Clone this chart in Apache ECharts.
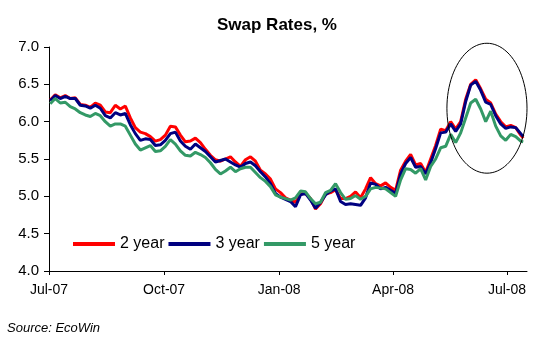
<!DOCTYPE html>
<html>
<head>
<meta charset="utf-8">
<script src="https://cdn.jsdelivr.net/npm/echarts@6/dist/echarts.min.js"></script>
<style>html,body{margin:0;padding:0;background:#fff}#c{width:539px;height:342px}</style>
</head>
<body>
<div id="c"></div>
<script>
// Sample dates (every 4 days)
const dates = [
'2007-07-02','2007-07-06','2007-07-10','2007-07-14','2007-07-18','2007-07-22','2007-07-26','2007-07-30',
'2007-08-03','2007-08-07','2007-08-11','2007-08-15','2007-08-19','2007-08-23','2007-08-27','2007-08-31',
'2007-09-04','2007-09-08','2007-09-12','2007-09-16','2007-09-20','2007-09-24','2007-09-28',
'2007-10-02','2007-10-06','2007-10-10','2007-10-14','2007-10-18','2007-10-22','2007-10-26','2007-10-30',
'2007-11-03','2007-11-07','2007-11-11','2007-11-15','2007-11-19','2007-11-23','2007-11-27',
'2007-12-01','2007-12-05','2007-12-09','2007-12-13','2007-12-17','2007-12-21','2007-12-25','2007-12-29',
'2008-01-02','2008-01-06','2008-01-10','2008-01-14','2008-01-18','2008-01-22','2008-01-26','2008-01-30',
'2008-02-03','2008-02-07','2008-02-11','2008-02-15','2008-02-19','2008-02-23','2008-02-27',
'2008-03-02','2008-03-06','2008-03-10','2008-03-14','2008-03-18','2008-03-22','2008-03-26','2008-03-30',
'2008-04-03','2008-04-07','2008-04-11','2008-04-15','2008-04-19','2008-04-23','2008-04-27',
'2008-05-01','2008-05-05','2008-05-09','2008-05-13','2008-05-17','2008-05-21','2008-05-25','2008-05-29',
'2008-06-02','2008-06-06','2008-06-10','2008-06-14','2008-06-18','2008-06-22','2008-06-26','2008-06-30',
'2008-07-04','2008-07-08','2008-07-12','2008-07-14'
];
const y2 = [
6.29,6.36,6.32,6.35,6.31,6.32,6.23,6.22,6.19,6.25,6.22,6.13,6.12,6.22,6.17,6.21,
6.05,5.92,5.86,5.84,5.80,5.74,5.76,
5.82,5.94,5.93,5.82,5.73,5.74,5.78,5.72,
5.63,5.55,5.49,5.47,5.50,5.53,5.46,
5.40,5.49,5.53,5.47,5.35,5.30,5.23,5.10,
5.05,4.98,4.95,4.92,5.03,5.04,4.97,4.83,
4.90,5.03,5.05,5.09,4.97,4.97,5.00,
5.06,4.98,5.10,5.25,5.17,5.14,5.18,5.12,
5.08,5.35,5.47,5.56,5.42,5.44,5.32,
5.50,5.68,5.90,5.88,6.00,5.90,6.00,6.30,
6.50,6.56,6.44,6.30,6.25,6.10,6.00,5.93,
5.95,5.92,5.82,5.78
];
const y3 = [
6.28,6.35,6.31,6.34,6.31,6.31,6.22,6.21,6.18,6.22,6.18,6.08,6.05,6.12,6.09,6.11,
5.96,5.84,5.75,5.77,5.76,5.68,5.69,
5.75,5.84,5.86,5.74,5.67,5.63,5.70,5.65,
5.60,5.53,5.46,5.48,5.50,5.46,5.42,
5.39,5.44,5.46,5.41,5.33,5.26,5.17,5.04,
4.99,4.96,4.93,4.86,5.02,5.04,4.95,4.84,
4.92,5.02,5.07,5.10,4.93,4.89,4.90,
4.89,4.88,4.98,5.18,5.16,5.10,5.12,5.08,
5.04,5.30,5.44,5.52,5.39,5.40,5.30,
5.45,5.64,5.85,5.86,5.97,5.87,5.97,6.27,
6.49,6.54,6.42,6.26,6.23,6.08,5.97,5.91,
5.93,5.92,5.84,5.80
];
const y5 = [
6.24,6.31,6.25,6.26,6.20,6.17,6.12,6.09,6.07,6.11,6.08,6.00,5.94,5.97,5.97,5.94,
5.82,5.70,5.62,5.65,5.68,5.60,5.61,
5.67,5.76,5.70,5.61,5.55,5.54,5.59,5.56,
5.52,5.45,5.36,5.30,5.34,5.39,5.33,
5.37,5.39,5.39,5.32,5.25,5.20,5.13,5.02,
4.99,4.97,4.95,4.98,5.07,5.06,4.97,4.90,
4.92,5.05,5.08,5.17,5.05,4.96,4.97,
5.01,4.96,5.00,5.10,5.12,5.11,5.10,5.05,
5.00,5.22,5.37,5.36,5.31,5.37,5.22,
5.40,5.50,5.65,5.67,5.83,5.72,5.85,6.05,
6.25,6.30,6.17,6.00,6.14,5.94,5.81,5.75,
5.83,5.80,5.74,5.73
];
const seriesNames = ['2 year','3 year','5 year'];
const tickDates = ['2007-07-01','2007-10-01','2008-01-01','2008-04-01','2008-07-01'];
const tickLabels = ['Jul-07','Oct-07','Jan-08','Apr-08','Jul-08'];

function ts(s){const p=s.split('-');return Date.UTC(+p[0],+p[1]-1,+p[2]);}
const tickTs = tickDates.map(ts);
const FONT = "'Liberation Sans', Arial, sans-serif";
const colors = ['#FF0000','#000080','#339966'];
const vals = [y2,y3,y5];

const chart = echarts.init(document.getElementById('c'), null, {renderer:'canvas'});
chart.setOption({
  animation:false,
  backgroundColor:'#fff',
  title:[
    {text:'Swap Rates, %', left:212, top:12, textStyle:{fontFamily:FONT,fontSize:17,fontWeight:'bold',color:'#000'}},
    {text:'Source: EcoWin', left:2, top:317, textStyle:{fontFamily:FONT,fontSize:13,fontStyle:'italic',fontWeight:'normal',color:'#000'}}
  ],
  grid:{left:49,right:12,top:47,bottom:71,containLabel:false},
  legend:{
    left:73, top:236, padding:0, itemWidth:42, itemHeight:4, itemGap:4,
    icon:'rect',
    data:seriesNames,
    textStyle:{fontFamily:FONT,fontSize:16,color:'#000'}
  },
  xAxis:{
    type:'value', min:ts('2007-07-01'), max:ts('2008-07-17'),
    axisLine:{lineStyle:{color:'#000',width:1}},
    axisTick:{show:true, customValues:tickTs, length:4, lineStyle:{color:'#000'}},
    axisLabel:{customValues:tickTs, margin:12, fontFamily:FONT, fontSize:14, color:'#000',
      formatter:function(v){let i=-1;for(let k=0;k<tickTs.length;k++){if(Math.abs(tickTs[k]-v)<43200000)i=k;}return i>=0?tickLabels[i]:'';}},
    splitLine:{show:false}
  },
  yAxis:{
    type:'value', min:4, max:7, interval:0.5,
    axisLine:{show:true,lineStyle:{color:'#000',width:1}},
    axisTick:{show:true,length:5,lineStyle:{color:'#000'}},
    axisLabel:{margin:10,fontFamily:FONT,fontSize:15,color:'#000',formatter:function(v){return v.toFixed(1);}},
    splitLine:{show:false}
  },
  series: seriesNames.map(function(n,i){
    return {name:n,type:'line',showSymbol:false,symbol:'none',
      data:dates.map(function(d,j){return [ts(d),vals[i][j]];}),
      lineStyle:{color:colors[i],width:3}, itemStyle:{color:colors[i]}, z:2+i};
  })
});

// Ellipse annotation around the mid-2008 peak
function drawEllipse(){
  const c = chart.convertToPixel({gridIndex:0},[ts('2008-06-15'),6.18]);
  const e = chart.convertToPixel({gridIndex:0},[ts('2008-07-17'),5.31]);
  const rx = e[0]-c[0], ry = e[1]-c[1];
  const pts=[];
  for(let k=0;k<=96;k++){const a=k/96*Math.PI*2;pts.push([c[0]+rx*Math.cos(a),c[1]+ry*Math.sin(a)]);}
  chart.setOption({graphic:[{type:'polyline',shape:{points:pts},style:{stroke:'#000',lineWidth:1,fill:null},z:100}]});
}
drawEllipse();
</script>
</body>
</html>
